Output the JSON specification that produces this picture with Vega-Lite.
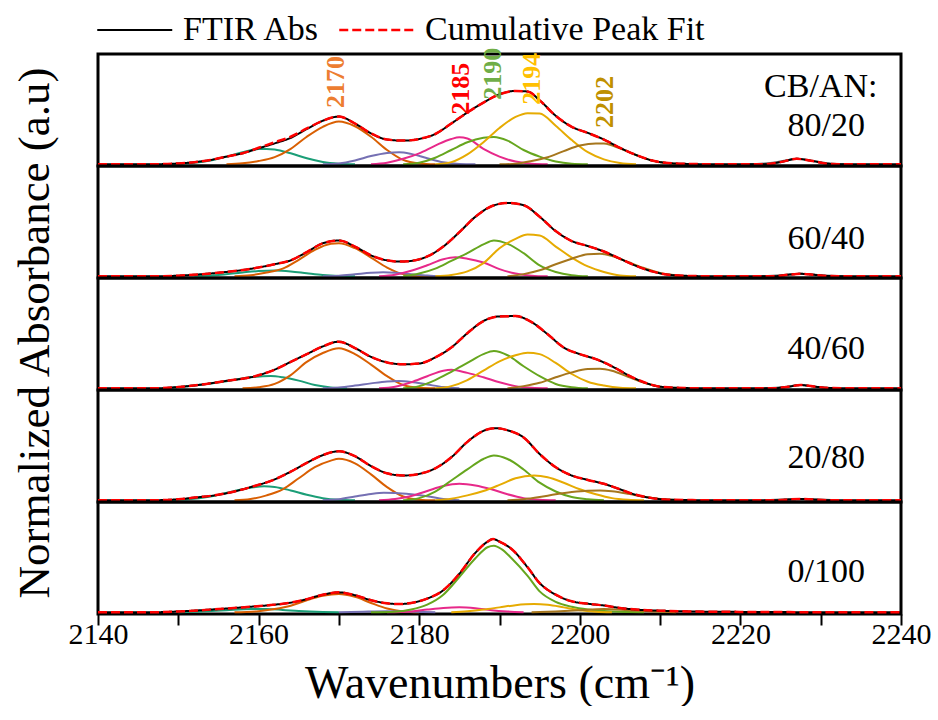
{
"$schema": "https://vega.github.io/schema/vega-lite/v6.json",
"background": "white",
"padding": {"left": 12, "top": 10, "right": 5, "bottom": 0},
"bounds": "flush",
"data": {"values": [
{"s":"80/20","wn":2140,"abs":0,"fit":0},{"s":"80/20","wn":2145,"abs":0,"fit":0},{"s":"80/20","wn":2148,"abs":0.002,"fit":0.002},{"s":"80/20","wn":2150,"abs":0.008,"fit":0.008},{"s":"80/20","wn":2152,"abs":0.02,"fit":0.02},{"s":"80/20","wn":2154,"abs":0.04,"fit":0.04},{"s":"80/20","wn":2156,"abs":0.07,"fit":0.07},{"s":"80/20","wn":2158,"abs":0.1,"fit":0.1},{"s":"80/20","wn":2160,"abs":0.145,"fit":0.15},{"s":"80/20","wn":2162,"abs":0.19,"fit":0.2},{"s":"80/20","wn":2164,"abs":0.24,"fit":0.25},{"s":"80/20","wn":2166,"abs":0.32,"fit":0.325},{"s":"80/20","wn":2168,"abs":0.395,"fit":0.395},{"s":"80/20","wn":2170,"abs":0.433,"fit":0.433},{"s":"80/20","wn":2172,"abs":0.37,"fit":0.37},{"s":"80/20","wn":2174,"abs":0.28,"fit":0.28},{"s":"80/20","wn":2176,"abs":0.225,"fit":0.225},{"s":"80/20","wn":2178,"abs":0.215,"fit":0.215},{"s":"80/20","wn":2180,"abs":0.23,"fit":0.23},{"s":"80/20","wn":2182,"abs":0.275,"fit":0.275},{"s":"80/20","wn":2184,"abs":0.37,"fit":0.37},{"s":"80/20","wn":2186,"abs":0.47,"fit":0.47},{"s":"80/20","wn":2188,"abs":0.56,"fit":0.56},{"s":"80/20","wn":2190,"abs":0.635,"fit":0.635},{"s":"80/20","wn":2192,"abs":0.665,"fit":0.665},{"s":"80/20","wn":2193.5,"abs":0.66,"fit":0.66},{"s":"80/20","wn":2195,"abs":0.58,"fit":0.58},{"s":"80/20","wn":2197,"abs":0.44,"fit":0.44},{"s":"80/20","wn":2199,"abs":0.34,"fit":0.34},{"s":"80/20","wn":2201,"abs":0.285,"fit":0.285},{"s":"80/20","wn":2203,"abs":0.225,"fit":0.225},{"s":"80/20","wn":2205,"abs":0.15,"fit":0.15},{"s":"80/20","wn":2207,"abs":0.085,"fit":0.085},{"s":"80/20","wn":2209,"abs":0.035,"fit":0.035},{"s":"80/20","wn":2211,"abs":0.012,"fit":0.012},{"s":"80/20","wn":2214,"abs":0.003,"fit":0.003},{"s":"80/20","wn":2218,"abs":0,"fit":0},{"s":"80/20","wn":2223,"abs":0,"fit":0},{"s":"80/20","wn":2225,"abs":0.02,"fit":0.02},{"s":"80/20","wn":2227,"abs":0.05,"fit":0.05},{"s":"80/20","wn":2229,"abs":0.03,"fit":0.03},{"s":"80/20","wn":2231,"abs":0.005,"fit":0.005},{"s":"80/20","wn":2234,"abs":0,"fit":0},{"s":"80/20","wn":2240,"abs":0,"fit":0},

{"s":"60/40","wn":2140,"abs":0,"fit":0},{"s":"60/40","wn":2146,"abs":0,"fit":0},{"s":"60/40","wn":2150,"abs":0.006,"fit":0.006},{"s":"60/40","wn":2153,"abs":0.02,"fit":0.02},{"s":"60/40","wn":2156,"abs":0.04,"fit":0.04},{"s":"60/40","wn":2159,"abs":0.068,"fit":0.068},{"s":"60/40","wn":2162,"abs":0.11,"fit":0.11},{"s":"60/40","wn":2164,"abs":0.145,"fit":0.145},{"s":"60/40","wn":2166,"abs":0.22,"fit":0.22},{"s":"60/40","wn":2168,"abs":0.3,"fit":0.3},{"s":"60/40","wn":2170,"abs":0.325,"fit":0.325},{"s":"60/40","wn":2172,"abs":0.27,"fit":0.27},{"s":"60/40","wn":2174,"abs":0.19,"fit":0.19},{"s":"60/40","wn":2176,"abs":0.145,"fit":0.145},{"s":"60/40","wn":2177.5,"abs":0.134,"fit":0.134},{"s":"60/40","wn":2179,"abs":0.14,"fit":0.14},{"s":"60/40","wn":2181,"abs":0.18,"fit":0.18},{"s":"60/40","wn":2183,"abs":0.27,"fit":0.27},{"s":"60/40","wn":2185,"abs":0.4,"fit":0.4},{"s":"60/40","wn":2187,"abs":0.54,"fit":0.54},{"s":"60/40","wn":2189,"abs":0.635,"fit":0.635},{"s":"60/40","wn":2191,"abs":0.665,"fit":0.665},{"s":"60/40","wn":2193,"abs":0.645,"fit":0.645},{"s":"60/40","wn":2195,"abs":0.54,"fit":0.54},{"s":"60/40","wn":2197,"abs":0.41,"fit":0.41},{"s":"60/40","wn":2199,"abs":0.32,"fit":0.32},{"s":"60/40","wn":2201,"abs":0.275,"fit":0.275},{"s":"60/40","wn":2203,"abs":0.225,"fit":0.225},{"s":"60/40","wn":2205,"abs":0.16,"fit":0.16},{"s":"60/40","wn":2207,"abs":0.095,"fit":0.095},{"s":"60/40","wn":2209,"abs":0.045,"fit":0.045},{"s":"60/40","wn":2211,"abs":0.015,"fit":0.015},{"s":"60/40","wn":2214,"abs":0.003,"fit":0.003},{"s":"60/40","wn":2218,"abs":0,"fit":0},{"s":"60/40","wn":2224,"abs":0,"fit":0},{"s":"60/40","wn":2226,"abs":0.015,"fit":0.015},{"s":"60/40","wn":2227.5,"abs":0.023,"fit":0.023},{"s":"60/40","wn":2229,"abs":0.015,"fit":0.015},{"s":"60/40","wn":2231,"abs":0.003,"fit":0.003},{"s":"60/40","wn":2234,"abs":0,"fit":0},{"s":"60/40","wn":2240,"abs":0,"fit":0},

{"s":"40/60","wn":2140,"abs":0,"fit":0},{"s":"40/60","wn":2147,"abs":0,"fit":0},{"s":"40/60","wn":2150,"abs":0.012,"fit":0.012},{"s":"40/60","wn":2153,"abs":0.035,"fit":0.035},{"s":"40/60","wn":2156,"abs":0.068,"fit":0.068},{"s":"40/60","wn":2159,"abs":0.1,"fit":0.1},{"s":"40/60","wn":2162,"abs":0.17,"fit":0.17},{"s":"40/60","wn":2164,"abs":0.24,"fit":0.24},{"s":"40/60","wn":2166,"abs":0.31,"fit":0.31},{"s":"40/60","wn":2168,"abs":0.38,"fit":0.38},{"s":"40/60","wn":2170,"abs":0.423,"fit":0.423},{"s":"40/60","wn":2172,"abs":0.365,"fit":0.365},{"s":"40/60","wn":2174,"abs":0.285,"fit":0.285},{"s":"40/60","wn":2176,"abs":0.235,"fit":0.235},{"s":"40/60","wn":2178,"abs":0.218,"fit":0.218},{"s":"40/60","wn":2180,"abs":0.225,"fit":0.225},{"s":"40/60","wn":2182,"abs":0.28,"fit":0.28},{"s":"40/60","wn":2184,"abs":0.37,"fit":0.37},{"s":"40/60","wn":2186,"abs":0.5,"fit":0.5},{"s":"40/60","wn":2188,"abs":0.61,"fit":0.61},{"s":"40/60","wn":2190,"abs":0.652,"fit":0.652},{"s":"40/60","wn":2192,"abs":0.655,"fit":0.655},{"s":"40/60","wn":2194,"abs":0.6,"fit":0.6},{"s":"40/60","wn":2196,"abs":0.49,"fit":0.49},{"s":"40/60","wn":2198,"abs":0.37,"fit":0.37},{"s":"40/60","wn":2200,"abs":0.31,"fit":0.31},{"s":"40/60","wn":2202,"abs":0.265,"fit":0.265},{"s":"40/60","wn":2204,"abs":0.2,"fit":0.2},{"s":"40/60","wn":2206,"abs":0.12,"fit":0.12},{"s":"40/60","wn":2208,"abs":0.055,"fit":0.055},{"s":"40/60","wn":2210,"abs":0.015,"fit":0.015},{"s":"40/60","wn":2213,"abs":0.003,"fit":0.003},{"s":"40/60","wn":2216,"abs":0,"fit":0},{"s":"40/60","wn":2224,"abs":0,"fit":0},{"s":"40/60","wn":2226,"abs":0.015,"fit":0.015},{"s":"40/60","wn":2227.5,"abs":0.03,"fit":0.03},{"s":"40/60","wn":2229,"abs":0.018,"fit":0.018},{"s":"40/60","wn":2231,"abs":0.004,"fit":0.004},{"s":"40/60","wn":2234,"abs":0,"fit":0},{"s":"40/60","wn":2240,"abs":0,"fit":0},

{"s":"20/80","wn":2140,"abs":0,"fit":0},{"s":"20/80","wn":2146,"abs":0,"fit":0},{"s":"20/80","wn":2150,"abs":0.01,"fit":0.01},{"s":"20/80","wn":2152,"abs":0.025,"fit":0.025},{"s":"20/80","wn":2154.5,"abs":0.045,"fit":0.045},{"s":"20/80","wn":2157,"abs":0.08,"fit":0.08},{"s":"20/80","wn":2159,"abs":0.12,"fit":0.12},{"s":"20/80","wn":2162,"abs":0.19,"fit":0.19},{"s":"20/80","wn":2164,"abs":0.26,"fit":0.26},{"s":"20/80","wn":2166,"abs":0.34,"fit":0.34},{"s":"20/80","wn":2168,"abs":0.41,"fit":0.41},{"s":"20/80","wn":2170,"abs":0.445,"fit":0.445},{"s":"20/80","wn":2172,"abs":0.4,"fit":0.4},{"s":"20/80","wn":2174,"abs":0.31,"fit":0.31},{"s":"20/80","wn":2176,"abs":0.245,"fit":0.245},{"s":"20/80","wn":2178,"abs":0.225,"fit":0.225},{"s":"20/80","wn":2180,"abs":0.24,"fit":0.24},{"s":"20/80","wn":2182,"abs":0.29,"fit":0.29},{"s":"20/80","wn":2184,"abs":0.39,"fit":0.39},{"s":"20/80","wn":2186,"abs":0.53,"fit":0.53},{"s":"20/80","wn":2188,"abs":0.63,"fit":0.63},{"s":"20/80","wn":2189.5,"abs":0.654,"fit":0.654},{"s":"20/80","wn":2191,"abs":0.635,"fit":0.635},{"s":"20/80","wn":2193,"abs":0.57,"fit":0.57},{"s":"20/80","wn":2195,"abs":0.42,"fit":0.42},{"s":"20/80","wn":2197,"abs":0.3,"fit":0.3},{"s":"20/80","wn":2199,"abs":0.225,"fit":0.225},{"s":"20/80","wn":2201,"abs":0.185,"fit":0.185},{"s":"20/80","wn":2203,"abs":0.15,"fit":0.15},{"s":"20/80","wn":2205,"abs":0.1,"fit":0.1},{"s":"20/80","wn":2207,"abs":0.05,"fit":0.05},{"s":"20/80","wn":2209,"abs":0.02,"fit":0.02},{"s":"20/80","wn":2211,"abs":0.006,"fit":0.006},{"s":"20/80","wn":2214,"abs":0.002,"fit":0.002},{"s":"20/80","wn":2218,"abs":0,"fit":0},{"s":"20/80","wn":2224,"abs":0,"fit":0},{"s":"20/80","wn":2227.5,"abs":0.012,"fit":0.012},{"s":"20/80","wn":2231,"abs":0,"fit":0},{"s":"20/80","wn":2240,"abs":0,"fit":0},

{"s":"0/100","wn":2140,"abs":0,"fit":0},{"s":"0/100","wn":2146,"abs":0,"fit":0},{"s":"0/100","wn":2150,"abs":0.008,"fit":0.008},{"s":"0/100","wn":2155,"abs":0.03,"fit":0.03},{"s":"0/100","wn":2158,"abs":0.045,"fit":0.045},{"s":"0/100","wn":2161.5,"abs":0.066,"fit":0.066},{"s":"0/100","wn":2164,"abs":0.088,"fit":0.088},{"s":"0/100","wn":2166,"abs":0.12,"fit":0.12},{"s":"0/100","wn":2168,"abs":0.16,"fit":0.16},{"s":"0/100","wn":2170,"abs":0.181,"fit":0.181},{"s":"0/100","wn":2172,"abs":0.155,"fit":0.155},{"s":"0/100","wn":2174,"abs":0.11,"fit":0.11},{"s":"0/100","wn":2176,"abs":0.082,"fit":0.082},{"s":"0/100","wn":2177.5,"abs":0.075,"fit":0.075},{"s":"0/100","wn":2179,"abs":0.085,"fit":0.085},{"s":"0/100","wn":2181,"abs":0.125,"fit":0.125},{"s":"0/100","wn":2183,"abs":0.2,"fit":0.2},{"s":"0/100","wn":2185,"abs":0.35,"fit":0.35},{"s":"0/100","wn":2187,"abs":0.54,"fit":0.54},{"s":"0/100","wn":2188.5,"abs":0.64,"fit":0.64},{"s":"0/100","wn":2189.2,"abs":0.665,"fit":0.665},{"s":"0/100","wn":2190,"abs":0.64,"fit":0.64},{"s":"0/100","wn":2191.5,"abs":0.574,"fit":0.574},{"s":"0/100","wn":2193.5,"abs":0.408,"fit":0.408},{"s":"0/100","wn":2195,"abs":0.265,"fit":0.265},{"s":"0/100","wn":2197,"abs":0.16,"fit":0.16},{"s":"0/100","wn":2199,"abs":0.1,"fit":0.1},{"s":"0/100","wn":2201,"abs":0.078,"fit":0.078},{"s":"0/100","wn":2203,"abs":0.062,"fit":0.062},{"s":"0/100","wn":2205,"abs":0.04,"fit":0.04},{"s":"0/100","wn":2207,"abs":0.025,"fit":0.025},{"s":"0/100","wn":2210,"abs":0.015,"fit":0.015},{"s":"0/100","wn":2214,"abs":0.008,"fit":0.008},{"s":"0/100","wn":2220,"abs":0.004,"fit":0.004},{"s":"0/100","wn":2226,"abs":0.002,"fit":0.002},{"s":"0/100","wn":2232,"abs":0,"fit":0},{"s":"0/100","wn":2240,"abs":0,"fit":0},

{"s":"80/20","pk":"2162","wn":2148,"v":0},{"s":"80/20","pk":"2162","wn":2150,"v":0.005},{"s":"80/20","pk":"2162","wn":2152,"v":0.015},{"s":"80/20","pk":"2162","wn":2154,"v":0.035},{"s":"80/20","pk":"2162","wn":2156,"v":0.07},{"s":"80/20","pk":"2162","wn":2158,"v":0.11},{"s":"80/20","pk":"2162","wn":2160,"v":0.138},{"s":"80/20","pk":"2162","wn":2161,"v":0.14},{"s":"80/20","pk":"2162","wn":2162,"v":0.135},{"s":"80/20","pk":"2162","wn":2164,"v":0.1},{"s":"80/20","pk":"2162","wn":2166,"v":0.055},{"s":"80/20","pk":"2162","wn":2168,"v":0.022},{"s":"80/20","pk":"2162","wn":2170,"v":0.006},{"s":"80/20","pk":"2162","wn":2172,"v":0},
{"s":"80/20","pk":"2170","wn":2156,"v":0},{"s":"80/20","pk":"2170","wn":2158,"v":0.01},{"s":"80/20","pk":"2170","wn":2160,"v":0.03},{"s":"80/20","pk":"2170","wn":2162,"v":0.065},{"s":"80/20","pk":"2170","wn":2164,"v":0.14},{"s":"80/20","pk":"2170","wn":2166,"v":0.25},{"s":"80/20","pk":"2170","wn":2168,"v":0.34},{"s":"80/20","pk":"2170","wn":2170,"v":0.388},{"s":"80/20","pk":"2170","wn":2172,"v":0.345},{"s":"80/20","pk":"2170","wn":2174,"v":0.25},{"s":"80/20","pk":"2170","wn":2176,"v":0.13},{"s":"80/20","pk":"2170","wn":2178,"v":0.04},{"s":"80/20","pk":"2170","wn":2180,"v":0.008},{"s":"80/20","pk":"2170","wn":2182,"v":0},
{"s":"80/20","pk":"2177","wn":2168,"v":0},{"s":"80/20","pk":"2177","wn":2170,"v":0.008},{"s":"80/20","pk":"2177","wn":2172,"v":0.035},{"s":"80/20","pk":"2177","wn":2174,"v":0.075},{"s":"80/20","pk":"2177","wn":2176,"v":0.103},{"s":"80/20","pk":"2177","wn":2177.5,"v":0.11},{"s":"80/20","pk":"2177","wn":2179,"v":0.095},{"s":"80/20","pk":"2177","wn":2181,"v":0.055},{"s":"80/20","pk":"2177","wn":2183,"v":0.018},{"s":"80/20","pk":"2177","wn":2185,"v":0.003},{"s":"80/20","pk":"2177","wn":2187,"v":0},
{"s":"80/20","pk":"2185","wn":2174,"v":0},{"s":"80/20","pk":"2185","wn":2176,"v":0.015},{"s":"80/20","pk":"2185","wn":2178,"v":0.05},{"s":"80/20","pk":"2185","wn":2180,"v":0.1},{"s":"80/20","pk":"2185","wn":2182,"v":0.17},{"s":"80/20","pk":"2185","wn":2184,"v":0.23},{"s":"80/20","pk":"2185","wn":2185,"v":0.245},{"s":"80/20","pk":"2185","wn":2186,"v":0.235},{"s":"80/20","pk":"2185","wn":2188,"v":0.14},{"s":"80/20","pk":"2185","wn":2190,"v":0.07},{"s":"80/20","pk":"2185","wn":2192,"v":0.025},{"s":"80/20","pk":"2185","wn":2194,"v":0.005},{"s":"80/20","pk":"2185","wn":2196,"v":0},
{"s":"80/20","pk":"2190","wn":2178,"v":0},{"s":"80/20","pk":"2190","wn":2180,"v":0.015},{"s":"80/20","pk":"2190","wn":2182,"v":0.06},{"s":"80/20","pk":"2190","wn":2184,"v":0.13},{"s":"80/20","pk":"2190","wn":2186,"v":0.2},{"s":"80/20","pk":"2190","wn":2188,"v":0.24},{"s":"80/20","pk":"2190","wn":2189.3,"v":0.248},{"s":"80/20","pk":"2190","wn":2191,"v":0.215},{"s":"80/20","pk":"2190","wn":2193,"v":0.13},{"s":"80/20","pk":"2190","wn":2195,"v":0.07},{"s":"80/20","pk":"2190","wn":2197,"v":0.025},{"s":"80/20","pk":"2190","wn":2199,"v":0.005},{"s":"80/20","pk":"2190","wn":2201,"v":0},
{"s":"80/20","pk":"2194","wn":2182,"v":0},{"s":"80/20","pk":"2194","wn":2184,"v":0.02},{"s":"80/20","pk":"2194","wn":2186,"v":0.09},{"s":"80/20","pk":"2194","wn":2188,"v":0.2},{"s":"80/20","pk":"2194","wn":2190,"v":0.33},{"s":"80/20","pk":"2194","wn":2192,"v":0.43},{"s":"80/20","pk":"2194","wn":2193.5,"v":0.464},{"s":"80/20","pk":"2194","wn":2195,"v":0.46},{"s":"80/20","pk":"2194","wn":2197,"v":0.35},{"s":"80/20","pk":"2194","wn":2199,"v":0.22},{"s":"80/20","pk":"2194","wn":2201,"v":0.11},{"s":"80/20","pk":"2194","wn":2203,"v":0.045},{"s":"80/20","pk":"2194","wn":2205,"v":0.012},{"s":"80/20","pk":"2194","wn":2207,"v":0},
{"s":"80/20","pk":"2202","wn":2190,"v":0},{"s":"80/20","pk":"2202","wn":2192,"v":0.005},{"s":"80/20","pk":"2202","wn":2194,"v":0.03},{"s":"80/20","pk":"2202","wn":2196,"v":0.065},{"s":"80/20","pk":"2202","wn":2198,"v":0.12},{"s":"80/20","pk":"2202","wn":2200,"v":0.17},{"s":"80/20","pk":"2202","wn":2202,"v":0.19},{"s":"80/20","pk":"2202","wn":2203,"v":0.188},{"s":"80/20","pk":"2202","wn":2205,"v":0.145},{"s":"80/20","pk":"2202","wn":2207,"v":0.085},{"s":"80/20","pk":"2202","wn":2209,"v":0.035},{"s":"80/20","pk":"2202","wn":2211,"v":0.01},{"s":"80/20","pk":"2202","wn":2213,"v":0},
{"s":"80/20","pk":"2227","wn":2221,"v":0},{"s":"80/20","pk":"2227","wn":2224,"v":0.015},{"s":"80/20","pk":"2227","wn":2226,"v":0.04},{"s":"80/20","pk":"2227","wn":2227,"v":0.05},{"s":"80/20","pk":"2227","wn":2228,"v":0.045},{"s":"80/20","pk":"2227","wn":2230,"v":0.02},{"s":"80/20","pk":"2227","wn":2232,"v":0.004},{"s":"80/20","pk":"2227","wn":2234,"v":0},

{"s":"60/40","pk":"2162","wn":2152,"v":0},{"s":"60/40","pk":"2162","wn":2155,"v":0.012},{"s":"60/40","pk":"2162","wn":2158,"v":0.035},{"s":"60/40","pk":"2162","wn":2160,"v":0.048},{"s":"60/40","pk":"2162","wn":2162,"v":0.053},{"s":"60/40","pk":"2162","wn":2164,"v":0.045},{"s":"60/40","pk":"2162","wn":2166,"v":0.028},{"s":"60/40","pk":"2162","wn":2168,"v":0.012},{"s":"60/40","pk":"2162","wn":2170,"v":0.003},{"s":"60/40","pk":"2162","wn":2172,"v":0},
{"s":"60/40","pk":"2170","wn":2157,"v":0},{"s":"60/40","pk":"2170","wn":2159,"v":0.01},{"s":"60/40","pk":"2170","wn":2161,"v":0.035},{"s":"60/40","pk":"2170","wn":2163,"v":0.07},{"s":"60/40","pk":"2170","wn":2165,"v":0.15},{"s":"60/40","pk":"2170","wn":2167,"v":0.24},{"s":"60/40","pk":"2170","wn":2169,"v":0.295},{"s":"60/40","pk":"2170","wn":2170,"v":0.3},{"s":"60/40","pk":"2170","wn":2172,"v":0.255},{"s":"60/40","pk":"2170","wn":2174,"v":0.17},{"s":"60/40","pk":"2170","wn":2176,"v":0.08},{"s":"60/40","pk":"2170","wn":2178,"v":0.02},{"s":"60/40","pk":"2170","wn":2180,"v":0.003},{"s":"60/40","pk":"2170","wn":2182,"v":0},
{"s":"60/40","pk":"2177","wn":2168,"v":0},{"s":"60/40","pk":"2177","wn":2170,"v":0.005},{"s":"60/40","pk":"2177","wn":2172,"v":0.018},{"s":"60/40","pk":"2177","wn":2174,"v":0.032},{"s":"60/40","pk":"2177","wn":2175.5,"v":0.037},{"s":"60/40","pk":"2177","wn":2177,"v":0.033},{"s":"60/40","pk":"2177","wn":2179,"v":0.02},{"s":"60/40","pk":"2177","wn":2181,"v":0.007},{"s":"60/40","pk":"2177","wn":2183,"v":0},
{"s":"60/40","pk":"2185","wn":2175,"v":0},{"s":"60/40","pk":"2185","wn":2177,"v":0.015},{"s":"60/40","pk":"2185","wn":2179,"v":0.05},{"s":"60/40","pk":"2185","wn":2181,"v":0.1},{"s":"60/40","pk":"2185","wn":2183,"v":0.155},{"s":"60/40","pk":"2185","wn":2184.5,"v":0.173},{"s":"60/40","pk":"2185","wn":2186,"v":0.16},{"s":"60/40","pk":"2185","wn":2188,"v":0.125},{"s":"60/40","pk":"2185","wn":2190,"v":0.065},{"s":"60/40","pk":"2185","wn":2192,"v":0.025},{"s":"60/40","pk":"2185","wn":2194,"v":0.006},{"s":"60/40","pk":"2185","wn":2196,"v":0},
{"s":"60/40","pk":"2190","wn":2178,"v":0},{"s":"60/40","pk":"2190","wn":2180,"v":0.025},{"s":"60/40","pk":"2190","wn":2182,"v":0.07},{"s":"60/40","pk":"2190","wn":2184,"v":0.14},{"s":"60/40","pk":"2190","wn":2186,"v":0.21},{"s":"60/40","pk":"2190","wn":2188,"v":0.29},{"s":"60/40","pk":"2190","wn":2189.3,"v":0.325},{"s":"60/40","pk":"2190","wn":2191,"v":0.295},{"s":"60/40","pk":"2190","wn":2193,"v":0.21},{"s":"60/40","pk":"2190","wn":2195,"v":0.1},{"s":"60/40","pk":"2190","wn":2197,"v":0.04},{"s":"60/40","pk":"2190","wn":2199,"v":0.01},{"s":"60/40","pk":"2190","wn":2201,"v":0},
{"s":"60/40","pk":"2194","wn":2182,"v":0},{"s":"60/40","pk":"2194","wn":2184,"v":0.012},{"s":"60/40","pk":"2194","wn":2186,"v":0.045},{"s":"60/40","pk":"2194","wn":2188,"v":0.12},{"s":"60/40","pk":"2194","wn":2190,"v":0.255},{"s":"60/40","pk":"2194","wn":2192,"v":0.34},{"s":"60/40","pk":"2194","wn":2193.5,"v":0.379},{"s":"60/40","pk":"2194","wn":2195,"v":0.37},{"s":"60/40","pk":"2194","wn":2197,"v":0.27},{"s":"60/40","pk":"2194","wn":2199,"v":0.17},{"s":"60/40","pk":"2194","wn":2201,"v":0.09},{"s":"60/40","pk":"2194","wn":2203,"v":0.04},{"s":"60/40","pk":"2194","wn":2205,"v":0.008},{"s":"60/40","pk":"2194","wn":2207,"v":0},
{"s":"60/40","pk":"2202","wn":2191,"v":0},{"s":"60/40","pk":"2202","wn":2193,"v":0.02},{"s":"60/40","pk":"2202","wn":2195,"v":0.055},{"s":"60/40","pk":"2202","wn":2197,"v":0.11},{"s":"60/40","pk":"2202","wn":2199,"v":0.16},{"s":"60/40","pk":"2202","wn":2201,"v":0.2},{"s":"60/40","pk":"2202","wn":2202.5,"v":0.204},{"s":"60/40","pk":"2202","wn":2204,"v":0.185},{"s":"60/40","pk":"2202","wn":2206,"v":0.13},{"s":"60/40","pk":"2202","wn":2208,"v":0.075},{"s":"60/40","pk":"2202","wn":2210,"v":0.03},{"s":"60/40","pk":"2202","wn":2212,"v":0.008},{"s":"60/40","pk":"2202","wn":2214,"v":0},
{"s":"60/40","pk":"2227","wn":2222,"v":0},{"s":"60/40","pk":"2227","wn":2225,"v":0.01},{"s":"60/40","pk":"2227","wn":2227.5,"v":0.023},{"s":"60/40","pk":"2227","wn":2230,"v":0.01},{"s":"60/40","pk":"2227","wn":2233,"v":0},

{"s":"40/60","pk":"2162","wn":2148,"v":0},{"s":"40/60","pk":"2162","wn":2150,"v":0.01},{"s":"40/60","pk":"2162","wn":2153,"v":0.035},{"s":"40/60","pk":"2162","wn":2156,"v":0.065},{"s":"40/60","pk":"2162","wn":2159,"v":0.1},{"s":"40/60","pk":"2162","wn":2161.5,"v":0.111},{"s":"40/60","pk":"2162","wn":2163,"v":0.1},{"s":"40/60","pk":"2162","wn":2165,"v":0.07},{"s":"40/60","pk":"2162","wn":2167,"v":0.03},{"s":"40/60","pk":"2162","wn":2169,"v":0.008},{"s":"40/60","pk":"2162","wn":2171,"v":0},
{"s":"40/60","pk":"2170","wn":2158,"v":0},{"s":"40/60","pk":"2170","wn":2160,"v":0.01},{"s":"40/60","pk":"2170","wn":2162,"v":0.04},{"s":"40/60","pk":"2170","wn":2164,"v":0.12},{"s":"40/60","pk":"2170","wn":2166,"v":0.24},{"s":"40/60","pk":"2170","wn":2168,"v":0.32},{"s":"40/60","pk":"2170","wn":2170,"v":0.363},{"s":"40/60","pk":"2170","wn":2172,"v":0.31},{"s":"40/60","pk":"2170","wn":2174,"v":0.215},{"s":"40/60","pk":"2170","wn":2176,"v":0.11},{"s":"40/60","pk":"2170","wn":2178,"v":0.03},{"s":"40/60","pk":"2170","wn":2180,"v":0.005},{"s":"40/60","pk":"2170","wn":2182,"v":0},
{"s":"40/60","pk":"2177","wn":2168,"v":0},{"s":"40/60","pk":"2177","wn":2170,"v":0.008},{"s":"40/60","pk":"2177","wn":2172,"v":0.025},{"s":"40/60","pk":"2177","wn":2174,"v":0.045},{"s":"40/60","pk":"2177","wn":2176,"v":0.062},{"s":"40/60","pk":"2177","wn":2177.5,"v":0.066},{"s":"40/60","pk":"2177","wn":2179,"v":0.058},{"s":"40/60","pk":"2177","wn":2181,"v":0.035},{"s":"40/60","pk":"2177","wn":2183,"v":0.012},{"s":"40/60","pk":"2177","wn":2185,"v":0},
{"s":"40/60","pk":"2185","wn":2175,"v":0},{"s":"40/60","pk":"2185","wn":2177,"v":0.015},{"s":"40/60","pk":"2185","wn":2179,"v":0.055},{"s":"40/60","pk":"2185","wn":2181,"v":0.11},{"s":"40/60","pk":"2185","wn":2183,"v":0.16},{"s":"40/60","pk":"2185","wn":2184,"v":0.168},{"s":"40/60","pk":"2185","wn":2186,"v":0.14},{"s":"40/60","pk":"2185","wn":2188,"v":0.1},{"s":"40/60","pk":"2185","wn":2190,"v":0.055},{"s":"40/60","pk":"2185","wn":2192,"v":0.02},{"s":"40/60","pk":"2185","wn":2194,"v":0.005},{"s":"40/60","pk":"2185","wn":2196,"v":0},
{"s":"40/60","pk":"2190","wn":2178,"v":0},{"s":"40/60","pk":"2190","wn":2180,"v":0.02},{"s":"40/60","pk":"2190","wn":2182,"v":0.075},{"s":"40/60","pk":"2190","wn":2184,"v":0.15},{"s":"40/60","pk":"2190","wn":2186,"v":0.23},{"s":"40/60","pk":"2190","wn":2188,"v":0.31},{"s":"40/60","pk":"2190","wn":2189.3,"v":0.338},{"s":"40/60","pk":"2190","wn":2191,"v":0.3},{"s":"40/60","pk":"2190","wn":2193,"v":0.2},{"s":"40/60","pk":"2190","wn":2195,"v":0.11},{"s":"40/60","pk":"2190","wn":2197,"v":0.04},{"s":"40/60","pk":"2190","wn":2199,"v":0.01},{"s":"40/60","pk":"2190","wn":2201,"v":0},
{"s":"40/60","pk":"2194","wn":2182,"v":0},{"s":"40/60","pk":"2194","wn":2184,"v":0.02},{"s":"40/60","pk":"2194","wn":2186,"v":0.075},{"s":"40/60","pk":"2194","wn":2188,"v":0.16},{"s":"40/60","pk":"2194","wn":2190,"v":0.245},{"s":"40/60","pk":"2194","wn":2192,"v":0.3},{"s":"40/60","pk":"2194","wn":2193.5,"v":0.323},{"s":"40/60","pk":"2194","wn":2195,"v":0.31},{"s":"40/60","pk":"2194","wn":2197,"v":0.23},{"s":"40/60","pk":"2194","wn":2199,"v":0.13},{"s":"40/60","pk":"2194","wn":2201,"v":0.06},{"s":"40/60","pk":"2194","wn":2203,"v":0.025},{"s":"40/60","pk":"2194","wn":2205,"v":0.005},{"s":"40/60","pk":"2194","wn":2207,"v":0},
{"s":"40/60","pk":"2202","wn":2191,"v":0},{"s":"40/60","pk":"2202","wn":2193,"v":0.02},{"s":"40/60","pk":"2202","wn":2195,"v":0.05},{"s":"40/60","pk":"2202","wn":2197,"v":0.1},{"s":"40/60","pk":"2202","wn":2199,"v":0.145},{"s":"40/60","pk":"2202","wn":2201,"v":0.175},{"s":"40/60","pk":"2202","wn":2202.5,"v":0.178},{"s":"40/60","pk":"2202","wn":2204,"v":0.16},{"s":"40/60","pk":"2202","wn":2206,"v":0.105},{"s":"40/60","pk":"2202","wn":2208,"v":0.05},{"s":"40/60","pk":"2202","wn":2210,"v":0.015},{"s":"40/60","pk":"2202","wn":2212,"v":0.003},{"s":"40/60","pk":"2202","wn":2214,"v":0},
{"s":"40/60","pk":"2227","wn":2223,"v":0},{"s":"40/60","pk":"2227","wn":2225.5,"v":0.012},{"s":"40/60","pk":"2227","wn":2227.5,"v":0.03},{"s":"40/60","pk":"2227","wn":2229.5,"v":0.012},{"s":"40/60","pk":"2227","wn":2232,"v":0},

{"s":"20/80","pk":"2162","wn":2149,"v":0},{"s":"20/80","pk":"2162","wn":2151,"v":0.008},{"s":"20/80","pk":"2162","wn":2154,"v":0.035},{"s":"20/80","pk":"2162","wn":2157,"v":0.085},{"s":"20/80","pk":"2162","wn":2159,"v":0.115},{"s":"20/80","pk":"2162","wn":2160.7,"v":0.128},{"s":"20/80","pk":"2162","wn":2162,"v":0.122},{"s":"20/80","pk":"2162","wn":2164,"v":0.09},{"s":"20/80","pk":"2162","wn":2166,"v":0.05},{"s":"20/80","pk":"2162","wn":2168,"v":0.02},{"s":"20/80","pk":"2162","wn":2170,"v":0.005},{"s":"20/80","pk":"2162","wn":2172,"v":0},
{"s":"20/80","pk":"2170","wn":2157,"v":0},{"s":"20/80","pk":"2170","wn":2159,"v":0.012},{"s":"20/80","pk":"2170","wn":2161,"v":0.045},{"s":"20/80","pk":"2170","wn":2163,"v":0.1},{"s":"20/80","pk":"2170","wn":2165,"v":0.2},{"s":"20/80","pk":"2170","wn":2167,"v":0.3},{"s":"20/80","pk":"2170","wn":2169,"v":0.36},{"s":"20/80","pk":"2170","wn":2170,"v":0.376},{"s":"20/80","pk":"2170","wn":2172,"v":0.335},{"s":"20/80","pk":"2170","wn":2174,"v":0.235},{"s":"20/80","pk":"2170","wn":2176,"v":0.12},{"s":"20/80","pk":"2170","wn":2178,"v":0.035},{"s":"20/80","pk":"2170","wn":2180,"v":0.006},{"s":"20/80","pk":"2170","wn":2182,"v":0},
{"s":"20/80","pk":"2177","wn":2168,"v":0},{"s":"20/80","pk":"2177","wn":2170,"v":0.01},{"s":"20/80","pk":"2177","wn":2172,"v":0.035},{"s":"20/80","pk":"2177","wn":2174,"v":0.058},{"s":"20/80","pk":"2177","wn":2175.6,"v":0.068},{"s":"20/80","pk":"2177","wn":2177,"v":0.066},{"s":"20/80","pk":"2177","wn":2179,"v":0.055},{"s":"20/80","pk":"2177","wn":2181,"v":0.038},{"s":"20/80","pk":"2177","wn":2183,"v":0.012},{"s":"20/80","pk":"2177","wn":2185,"v":0},
{"s":"20/80","pk":"2185","wn":2175,"v":0},{"s":"20/80","pk":"2185","wn":2177,"v":0.012},{"s":"20/80","pk":"2185","wn":2179,"v":0.04},{"s":"20/80","pk":"2185","wn":2181,"v":0.085},{"s":"20/80","pk":"2185","wn":2183,"v":0.13},{"s":"20/80","pk":"2185","wn":2185,"v":0.15},{"s":"20/80","pk":"2185","wn":2187,"v":0.135},{"s":"20/80","pk":"2185","wn":2189,"v":0.1},{"s":"20/80","pk":"2185","wn":2191,"v":0.055},{"s":"20/80","pk":"2185","wn":2193,"v":0.02},{"s":"20/80","pk":"2185","wn":2195,"v":0.005},{"s":"20/80","pk":"2185","wn":2197,"v":0},
{"s":"20/80","pk":"2190","wn":2178,"v":0},{"s":"20/80","pk":"2190","wn":2180,"v":0.02},{"s":"20/80","pk":"2190","wn":2182,"v":0.08},{"s":"20/80","pk":"2190","wn":2184,"v":0.18},{"s":"20/80","pk":"2190","wn":2186,"v":0.28},{"s":"20/80","pk":"2190","wn":2188,"v":0.375},{"s":"20/80","pk":"2190","wn":2189.3,"v":0.406},{"s":"20/80","pk":"2190","wn":2191,"v":0.375},{"s":"20/80","pk":"2190","wn":2193,"v":0.28},{"s":"20/80","pk":"2190","wn":2195,"v":0.16},{"s":"20/80","pk":"2190","wn":2197,"v":0.08},{"s":"20/80","pk":"2190","wn":2199,"v":0.03},{"s":"20/80","pk":"2190","wn":2201,"v":0.01},{"s":"20/80","pk":"2190","wn":2203,"v":0},
{"s":"20/80","pk":"2194","wn":2182,"v":0},{"s":"20/80","pk":"2194","wn":2184,"v":0.015},{"s":"20/80","pk":"2194","wn":2186,"v":0.045},{"s":"20/80","pk":"2194","wn":2188,"v":0.085},{"s":"20/80","pk":"2194","wn":2190,"v":0.14},{"s":"20/80","pk":"2194","wn":2192,"v":0.2},{"s":"20/80","pk":"2194","wn":2194.3,"v":0.225},{"s":"20/80","pk":"2194","wn":2196,"v":0.21},{"s":"20/80","pk":"2194","wn":2198,"v":0.16},{"s":"20/80","pk":"2194","wn":2200,"v":0.1},{"s":"20/80","pk":"2194","wn":2202,"v":0.055},{"s":"20/80","pk":"2194","wn":2204,"v":0.02},{"s":"20/80","pk":"2194","wn":2206,"v":0.005},{"s":"20/80","pk":"2194","wn":2208,"v":0},
{"s":"20/80","pk":"2202","wn":2191,"v":0},{"s":"20/80","pk":"2202","wn":2193,"v":0.01},{"s":"20/80","pk":"2202","wn":2195,"v":0.03},{"s":"20/80","pk":"2202","wn":2197,"v":0.055},{"s":"20/80","pk":"2202","wn":2199,"v":0.075},{"s":"20/80","pk":"2202","wn":2201,"v":0.087},{"s":"20/80","pk":"2202","wn":2202.5,"v":0.089},{"s":"20/80","pk":"2202","wn":2204,"v":0.082},{"s":"20/80","pk":"2202","wn":2206,"v":0.06},{"s":"20/80","pk":"2202","wn":2208,"v":0.032},{"s":"20/80","pk":"2202","wn":2210,"v":0.012},{"s":"20/80","pk":"2202","wn":2212,"v":0.003},{"s":"20/80","pk":"2202","wn":2214,"v":0},
{"s":"20/80","pk":"2227","wn":2223,"v":0},{"s":"20/80","pk":"2227","wn":2227.5,"v":0.012},{"s":"20/80","pk":"2227","wn":2232,"v":0},

{"s":"0/100","pk":"2162","wn":2150,"v":0},{"s":"0/100","pk":"2162","wn":2153,"v":0.008},{"s":"0/100","pk":"2162","wn":2156,"v":0.02},{"s":"0/100","pk":"2162","wn":2159,"v":0.03},{"s":"0/100","pk":"2162","wn":2161,"v":0.03},{"s":"0/100","pk":"2162","wn":2163,"v":0.022},{"s":"0/100","pk":"2162","wn":2165,"v":0.012},{"s":"0/100","pk":"2162","wn":2168,"v":0.003},{"s":"0/100","pk":"2162","wn":2170,"v":0},
{"s":"0/100","pk":"2170","wn":2157,"v":0},{"s":"0/100","pk":"2170","wn":2160,"v":0.01},{"s":"0/100","pk":"2170","wn":2162,"v":0.03},{"s":"0/100","pk":"2170","wn":2164,"v":0.06},{"s":"0/100","pk":"2170","wn":2166,"v":0.11},{"s":"0/100","pk":"2170","wn":2168,"v":0.15},{"s":"0/100","pk":"2170","wn":2170,"v":0.166},{"s":"0/100","pk":"2170","wn":2172,"v":0.14},{"s":"0/100","pk":"2170","wn":2174,"v":0.085},{"s":"0/100","pk":"2170","wn":2176,"v":0.035},{"s":"0/100","pk":"2170","wn":2178,"v":0.008},{"s":"0/100","pk":"2170","wn":2180,"v":0},
{"s":"0/100","pk":"2177","wn":2170,"v":0},{"s":"0/100","pk":"2177","wn":2173,"v":0.006},{"s":"0/100","pk":"2177","wn":2176,"v":0.01},{"s":"0/100","pk":"2177","wn":2179,"v":0.006},{"s":"0/100","pk":"2177","wn":2182,"v":0},
{"s":"0/100","pk":"2185","wn":2176,"v":0},{"s":"0/100","pk":"2185","wn":2179,"v":0.008},{"s":"0/100","pk":"2185","wn":2181,"v":0.025},{"s":"0/100","pk":"2185","wn":2183,"v":0.04},{"s":"0/100","pk":"2185","wn":2185,"v":0.046},{"s":"0/100","pk":"2185","wn":2187,"v":0.038},{"s":"0/100","pk":"2185","wn":2189,"v":0.02},{"s":"0/100","pk":"2185","wn":2191,"v":0.008},{"s":"0/100","pk":"2185","wn":2193,"v":0},
{"s":"0/100","pk":"2190","wn":2174,"v":0},{"s":"0/100","pk":"2190","wn":2177,"v":0.005},{"s":"0/100","pk":"2190","wn":2179,"v":0.025},{"s":"0/100","pk":"2190","wn":2181,"v":0.07},{"s":"0/100","pk":"2190","wn":2183,"v":0.16},{"s":"0/100","pk":"2190","wn":2185,"v":0.32},{"s":"0/100","pk":"2190","wn":2187,"v":0.49},{"s":"0/100","pk":"2190","wn":2188.5,"v":0.59},{"s":"0/100","pk":"2190","wn":2189.3,"v":0.604},{"s":"0/100","pk":"2190","wn":2190.3,"v":0.57},{"s":"0/100","pk":"2190","wn":2191.5,"v":0.49},{"s":"0/100","pk":"2190","wn":2193.5,"v":0.33},{"s":"0/100","pk":"2190","wn":2195,"v":0.19},{"s":"0/100","pk":"2190","wn":2197,"v":0.095},{"s":"0/100","pk":"2190","wn":2199,"v":0.05},{"s":"0/100","pk":"2190","wn":2201,"v":0.025},{"s":"0/100","pk":"2190","wn":2203,"v":0.012},{"s":"0/100","pk":"2190","wn":2206,"v":0.003},{"s":"0/100","pk":"2190","wn":2208,"v":0},
{"s":"0/100","pk":"2194","wn":2184,"v":0},{"s":"0/100","pk":"2194","wn":2186,"v":0.01},{"s":"0/100","pk":"2194","wn":2188,"v":0.025},{"s":"0/100","pk":"2194","wn":2190,"v":0.045},{"s":"0/100","pk":"2194","wn":2192,"v":0.065},{"s":"0/100","pk":"2194","wn":2194.3,"v":0.075},{"s":"0/100","pk":"2194","wn":2196,"v":0.068},{"s":"0/100","pk":"2194","wn":2198,"v":0.045},{"s":"0/100","pk":"2194","wn":2200,"v":0.02},{"s":"0/100","pk":"2194","wn":2202,"v":0.006},{"s":"0/100","pk":"2194","wn":2204,"v":0},
{"s":"0/100","pk":"2202","wn":2194,"v":0},{"s":"0/100","pk":"2202","wn":2197,"v":0.008},{"s":"0/100","pk":"2202","wn":2200,"v":0.02},{"s":"0/100","pk":"2202","wn":2203,"v":0.03},{"s":"0/100","pk":"2202","wn":2206,"v":0.02},{"s":"0/100","pk":"2202","wn":2209,"v":0.008},{"s":"0/100","pk":"2202","wn":2212,"v":0},

{"s":"80/20","pl":"2170","wn":2169.6,"v":0.51},
{"s":"80/20","pl":"2185","wn":2185.2,"v":0.45},
{"s":"80/20","pl":"2190","wn":2189.2,"v":0.585},
{"s":"80/20","pl":"2194","wn":2194.1,"v":0.54},
{"s":"80/20","pl":"2202","wn":2203.2,"v":0.33},

{"s":"80/20","t":"CB/AN:","wn":2230,"v":0.7},
{"s":"80/20","t":"80/20","wn":2230.7,"v":0.35},
{"s":"60/40","t":"60/40","wn":2230.7,"v":0.34},
{"s":"40/60","t":"40/60","wn":2230.7,"v":0.354},
{"s":"20/80","t":"20/80","wn":2230.7,"v":0.383},
{"s":"0/100","t":"0/100","wn":2230.7,"v":0.37}
]},
"facet": {"row": {"field": "s", "type": "nominal", "sort": ["80/20","60/40","40/60","20/80","0/100"],
  "header": {"title": "Normalized Absorbance (a.u)", "labels": false, "titleFont": "Liberation Serif", "titleFontSize": 45, "titleFontWeight": "normal", "titleColor": "black", "titlePadding": 30}}},
"spacing": {"row": 0, "column": 0},
"spec": {
 "width": 803,
 "height": 112,
 "layer": [
  {"transform": [{"filter": "isValid(datum.pk)"}],
   "mark": {"type": "line", "strokeWidth": 2, "interpolate": "monotone"},
   "encoding": {
     "x": {"field": "wn", "type": "quantitative", "scale": {"domain": [2140, 2240], "nice": false},
       "axis": {"title": "Wavenumbers (cm⁻¹)", "values": [2140,2150,2160,2170,2180,2190,2200,2210,2220,2230,2240], "format": "d",
         "labelExpr": "datum.value % 20 === 0 ? datum.label : ''", "tickSize": 11,
         "encode": {"ticks": {"update": {"y2": {"signal": "datum.value % 20 === 0 ? 11 : 6"}}}}}},
     "y": {"field": "v", "type": "quantitative", "scale": {"domain": [-0.015, 1], "nice": false, "zero": false}, "axis": null},
     "color": {"field": "pk", "type": "nominal", "legend": null,
       "scale": {"domain": ["2162","2170","2177","2185","2190","2194","2202","2227"], "range": ["#1b9e77","#d95f02","#7570b3","#e7298a","#66a61e","#e6ab02","#a6761d","#666666"]}}
   }},
  {"transform": [{"filter": "isValid(datum.abs)"}, {"fold": ["abs", "fit"], "as": ["key", "val"]}],
   "mark": {"type": "line", "interpolate": "monotone"},
   "encoding": {
     "x": {"field": "wn", "type": "quantitative", "title": "Wavenumbers (cm⁻¹)"},
     "y": {"field": "val", "type": "quantitative", "axis": null},
     "stroke": {"field": "key", "type": "nominal", "scale": {"domain": ["abs", "fit"], "range": ["black", "#ff0000"]},
       "legend": {"orient": "none", "legendX": -2, "legendY": -44, "direction": "horizontal", "title": null, "symbolType": "M-1,0L3,0", "symbolSize": 1406, "symbolStrokeWidth": 2.5,
         "labelFont": "Liberation Serif", "labelFontSize": 34, "labelColor": "black", "labelLimit": 500, "labelOffset": 47, "columnPadding": 14,
         "labelExpr": "datum.value === 'abs' ? 'FTIR Abs' : 'Cumulative Peak Fit'",
         "encode": {"symbols": {"update": {"strokeDash": {"signal": "datum.value === 'fit' ? [14, 10] : [1, 0]"}}}}}},
     "strokeDash": {"field": "key", "type": "nominal", "scale": {"domain": ["abs", "fit"], "range": [[1, 0], [9, 4]]},
       "legend": {"orient": "none", "legendX": -2, "legendY": -44, "direction": "horizontal", "title": null, "symbolType": "M-1,0L3,0", "symbolSize": 1406, "symbolStrokeWidth": 2.5,
         "labelFont": "Liberation Serif", "labelFontSize": 34, "labelColor": "black", "labelLimit": 500, "labelOffset": 47, "columnPadding": 14,
         "labelExpr": "datum.value === 'abs' ? 'FTIR Abs' : 'Cumulative Peak Fit'",
         "encode": {"symbols": {"update": {"strokeDash": {"signal": "datum.value === 'fit' ? [14, 10] : [1, 0]"}}}}}},
     "strokeWidth": {"field": "key", "type": "nominal", "scale": {"domain": ["abs", "fit"], "range": [2, 2.5]}, "legend": null}
   }},
  {"transform": [{"filter": "isValid(datum.pl)"}],
   "mark": {"type": "text", "angle": 270, "align": "left", "baseline": "middle", "font": "Liberation Serif", "fontWeight": "bold", "fontSize": 26},
   "encoding": {
     "x": {"field": "wn", "type": "quantitative", "title": "Wavenumbers (cm⁻¹)"},
     "y": {"field": "v", "type": "quantitative", "axis": null},
     "text": {"field": "pl"},
     "fill": {"field": "pl", "type": "nominal", "legend": null,
       "scale": {"domain": ["2170","2185","2190","2194","2202"], "range": ["#ed7d31","#ff0000","#70ad47","#ffc000","#bf9000"]}}
   }},
  {"transform": [{"filter": "isValid(datum.t)"}],
   "mark": {"type": "text", "align": "center", "baseline": "middle", "font": "Liberation Serif", "fontSize": 34, "color": "black"},
   "encoding": {
     "x": {"field": "wn", "type": "quantitative", "title": "Wavenumbers (cm⁻¹)"},
     "y": {"field": "v", "type": "quantitative", "axis": null},
     "text": {"field": "t"}
   }}
 ]
},
"config": {
  "view": {"stroke": "black", "strokeWidth": 3},
  "facet": {"spacing": 0},
  "axisX": {"domain": false, "tickColor": "black", "tickWidth": 2, "labelFont": "Liberation Serif", "labelFontSize": 30, "labelColor": "black", "labelPadding": -6,
    "titleFont": "Liberation Serif", "titleFontSize": 46, "titleFontWeight": "normal", "titleColor": "black", "titlePadding": 12, "grid": false, "labelFlush": false, "labelOverlap": false}
}
}
